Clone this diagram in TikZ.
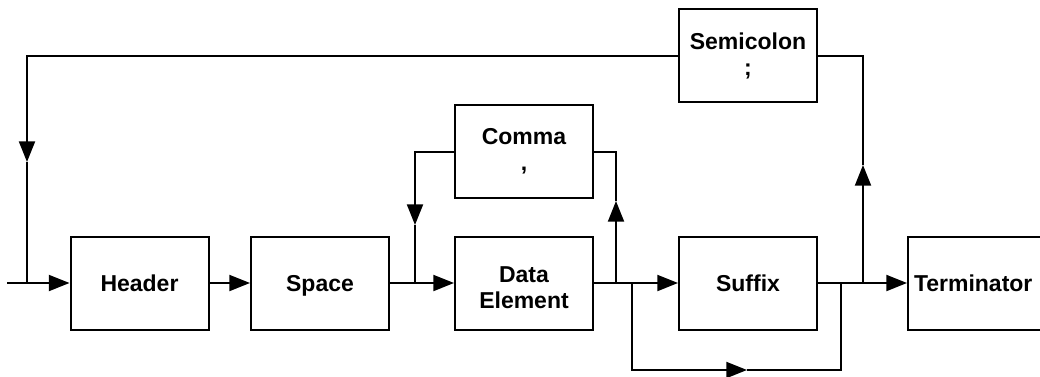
\documentclass[tikz,border=0pt]{standalone}
\usepackage{fontspec}
\setmainfont{Liberation Sans}
\usetikzlibrary{arrows.meta}
\tikzset{
  block/.style={draw, line width=1.5pt, minimum width=103.5pt, minimum height=69.75pt,
    inner sep=0pt, align=center, font=\fontsize{17.25}{19.5}\selectfont\bfseries},
  flow/.style={line width=1.5pt},
  arr/.style={flow, -{Triangle[length=15.5pt,width=12pt]}},
}
\begin{document}
\begin{tikzpicture}[x=0.75pt,y=-0.75pt]
  \useasboundingbox (0,0) rectangle (1040,376);

  % main row
  \node[block] (header) at (139.5,283) {Header};
  \node[block, text depth=0pt] (space) at (320,283) {Space};
  \node[block] (data)   at (524,283)   {\rule{0pt}{18.5pt}Data\\Element};
  \node[block] (suffix) at (748,283)   {Suffix};
  \node[block, anchor=west, inner xsep=4.5pt, text width=101pt, align=left] (term) at (907,283) {Terminator};
  % loop boxes
  \node[block] (comma) at (524,151.5) {Comma\\,};
  \node[block] (semi)  at (748,55.5)  {Semicolon\\;};

  \coordinate (in)  at (7,283);
  \coordinate (j0)  at (27,283);
  \coordinate (j2)  at (415,283);
  \coordinate (j3)  at (616,283);
  \coordinate (jb)  at (632,283);
  \coordinate (jb2) at (841,283);
  \coordinate (j4)  at (863,283);
  \coordinate (loopdown)  at (27,162);
  \coordinate (commadown) at (415,225);
  \coordinate (commaup)   at (616,201);
  \coordinate (semiup)    at (863,165);
  \coordinate (bymid)     at (747,370);

  \draw[arr] (in) -- (header.west);
  \draw[arr] (header.east) -- (space.west);
  \draw[arr] (space.east) -- (data.west);
  \draw[arr] (data.east) -- (suffix.west);
  \draw[arr] (suffix.east) -- (term.west);

  % semicolon loop back to the start
  \draw[arr] (j4) -- (semiup);
  \draw[flow] (semiup) |- (semi.east);
  \draw[arr] (semi.west) -| (loopdown);
  \draw[flow] (loopdown) -- (j0);

  % comma loop
  \draw[arr] (j3) -- (commaup);
  \draw[flow] (commaup) |- (comma.east);
  \draw[arr] (comma.west) -| (commadown);
  \draw[flow] (commadown) -- (j2);

  % suffix is optional
  \draw[arr] (jb) |- (bymid);
  \draw[flow] (bymid) -| (jb2);
\end{tikzpicture}
\end{document}
